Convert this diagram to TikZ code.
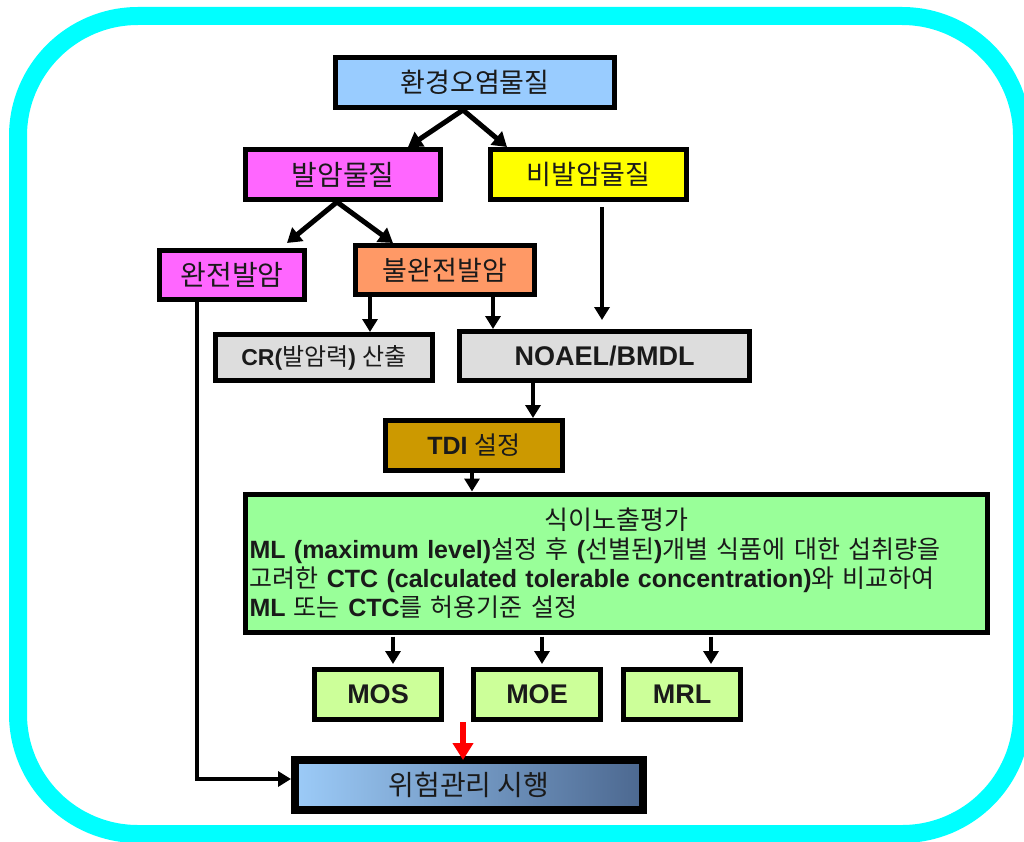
\documentclass[tikz,border=0pt]{standalone}
\usepackage{fontspec}
\setmainfont{Liberation Sans}
\newfontfamily\kr{Noto Sans CJK KR}
\usetikzlibrary{arrows.meta,calc}

\definecolor{ring}{HTML}{00FFFF}
\definecolor{txt}{HTML}{1A1A1A}
\definecolor{envblue}{HTML}{99CCFF}
\definecolor{magent}{HTML}{FF66FF}
\definecolor{yell}{HTML}{FFFF00}
\definecolor{orng}{HTML}{FF9966}
\definecolor{lgray}{HTML}{DDDDDD}
\definecolor{gold}{HTML}{CC9900}
\definecolor{lgreen}{HTML}{99FF99}
\definecolor{lime}{HTML}{CCFF99}
\definecolor{riskL}{HTML}{9CCBF8}
\definecolor{riskR}{HTML}{4C6890}

% mixed-script helpers: Korean in regular weight, Latin in bold
\newcommand\Ks[2]{{\kr\mdseries\fontsize{#1}{29}\selectfont #2}}
\newcommand\Kb[1]{\Ks{25}{#1}}
\newcommand\Bf[1]{{\bfseries #1}}

\begin{document}
\begin{tikzpicture}[x=1pt,y=-1pt,
  box/.style={draw=black, line width=5pt, text=txt, inner sep=0pt, align=center},
  krlabel/.style={font=\kr\fontsize{27}{30}\selectfont},
  latlabel/.style={font=\bfseries\fontsize{27}{30}\selectfont},
  arr/.style={draw=black, line width=4pt, -{Triangle[length=13pt,width=15pt]}},
  diag/.style={draw=black, line width=5pt, -{Triangle[length=14pt,width=17pt]}},
  redarr/.style={draw=red, line width=6pt, -{Triangle[length=17pt,width=20pt]}}]

\useasboundingbox (0,0) rectangle (1024,842);
\clip (0,0) rectangle (1024,842);
\fill[white] (0,0) rectangle (1024,842);

% outer frame
\draw[ring, line width=18pt, rounded corners=120pt] (18,16) rectangle (1022,834);

% boxes
\node[box, krlabel, fill=envblue, minimum width=279pt, minimum height=50pt] (env) at (475,82.5) {환경오염물질};
\node[box, krlabel, font=\kr\fontsize{28}{30}\selectfont, fill=magent, minimum width=195pt, minimum height=50pt] (carc) at (343,174.5) {발암물질};
\node[box, krlabel, fill=yell, minimum width=196pt, minimum height=50pt] (noncarc) at (588.5,174.5) {비발암물질};
\node[box, krlabel, font=\kr\fontsize{28}{30}\selectfont, fill=magent, minimum width=145pt, minimum height=49pt] (full) at (232,275) {완전발암};
\node[box, krlabel, fill=orng, minimum width=179pt, minimum height=49pt] (inc) at (445,270) {불완전발암};
\node[box, fill=lgray, minimum width=217pt, minimum height=46pt,
      font=\bfseries\fontsize{23}{26}\selectfont] (cr) at (324,357.5)
      {CR(\Ks{24}{발암력}) \Ks{24}{산출}};
\node[box, latlabel, fill=lgray, minimum width=290pt, minimum height=49pt] (noael) at (604.5,356) {NOAEL/BMDL};
\node[box, fill=gold, minimum width=177pt, minimum height=50pt,
      font=\bfseries\fontsize{25}{30}\selectfont] (tdi) at (474,445.5)
      {TDI \Ks{25}{설정}};

\node[box, fill=lgreen, text width=734pt, inner xsep=4pt, minimum height=138pt, align=left,
      font=\bfseries\fontsize{25}{29}\selectfont] (expo) at (616.5,563)
  {\makebox[\linewidth][c]{\Ks{26}{식이노출평가}}\\
   \Bf{ML (maximum level)}\Kb{설정 후} \Bf{(}\Kb{선별된}\Bf{)}\Kb{개별 식품에 대한 섭취량을}\\
   \Kb{고려한} \Bf{CTC (calculated tolerable concentration)}\Kb{와 비교하여}\\
   \Bf{ML} \Kb{또는} \Bf{CTC}\Kb{를 허용기준 설정}};

\node[box, latlabel, fill=lime, minimum width=127pt, minimum height=50pt] (mos) at (378,694.5) {MOS};
\node[box, latlabel, fill=lime, minimum width=127pt, minimum height=50pt] (moe) at (537,694.5) {MOE};
\node[box, latlabel, fill=lime, minimum width=117pt, minimum height=50pt] (mrl) at (682,694.5) {MRL};

\node[box, krlabel, font=\kr\fontsize{28}{30}\selectfont, line width=8pt, left color=riskL, right color=riskR,
      minimum width=348pt, minimum height=50pt] (risk) at (469,785) {위험관리 시행};

% connectors
\draw[diag] ([xshift=-12pt]env.south) -- ([xshift=65pt]carc.north);
\draw[diag] ([xshift=-12pt]env.south) -- ([xshift=-81.5pt]noncarc.north);
\draw[diag] ([xshift=-6pt]carc.south) -- ([xshift=55pt,yshift=5pt]full.north);
\draw[diag] ([xshift=-6pt]carc.south) -- ([xshift=-52pt]inc.north);

\draw[arr] ([xshift=-75pt]inc.south) -- ([xshift=-75pt]inc.south |- cr.north);
\draw[arr] ([xshift=48pt]inc.south) -- ([xshift=48pt]inc.south |- noael.north);
\draw[arr] ([xshift=13.5pt,yshift=-5pt]noncarc.south) -- ([xshift=13.5pt,yshift=9pt]noncarc.south |- noael.north);

\draw[arr] ([xshift=-71.5pt]noael.south) -- ([xshift=-71.5pt]noael.south |- tdi.north);
\draw[arr] ([xshift=-2pt]tdi.south) -- ([xshift=-2pt]tdi.south |- expo.north);

\draw[arr] ([xshift=-223.5pt,yshift=-2pt]expo.south) -- ([xshift=-223.5pt,yshift=3pt]expo.south |- mos.north);
\draw[arr] ([xshift=-74.5pt,yshift=-2pt]expo.south) -- ([xshift=-74.5pt,yshift=3pt]expo.south |- moe.north);
\draw[arr] ([xshift=94.5pt,yshift=-2pt]expo.south) -- ([xshift=94.5pt,yshift=3pt]expo.south |- mrl.north);

\draw[arr] ([xshift=-35pt]full.south) |- ([yshift=6pt]risk.west);

\coordinate (redtop) at (463,722);
\draw[redarr] (redtop) -- ([xshift=-6pt,yshift=-4pt]risk.north);

\end{tikzpicture}
\end{document}
